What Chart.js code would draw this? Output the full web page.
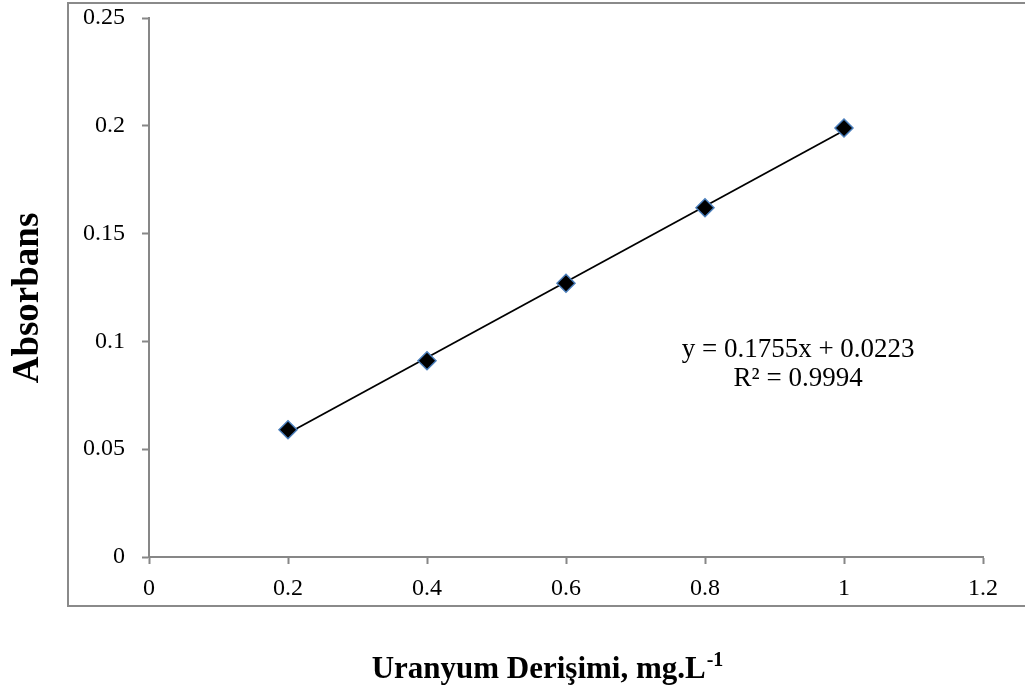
<!DOCTYPE html>
<html>
<head>
<meta charset="utf-8">
<script src="https://cdn.jsdelivr.net/npm/chart.js@4/dist/chart.umd.min.js"></script>
<style>
  html, body { margin: 0; padding: 0; background: #ffffff; }
  #wrap { width: 1025px; height: 694px; position: relative; }
</style>
</head>
<body>
<div id="wrap"><canvas id="c" width="1025" height="694"></canvas></div>
<script>
// Calibration data: uranium concentration (mg/L) vs absorbance
const concentration = [0.2, 0.4, 0.6, 0.8, 1.0];
const absorbance = [0.059, 0.091, 0.127, 0.162, 0.199];

// Linear fit reported on the chart
const fitSlope = 0.1755;
const fitIntercept = 0.0223;
const fitR2 = 0.9994;

// Axis ranges and tick steps
const xTicks = [0, 0.2, 0.4, 0.6, 0.8, 1, 1.2];
const yTicks = [0, 0.05, 0.1, 0.15, 0.2, 0.25];

const FONT = "'Liberation Serif', 'Times New Roman', serif";
const AXIS_GRAY = '#878787';

const pointData = concentration.map((x, i) => ({ x, y: absorbance[i] }));
const xFirst = concentration[0];
const xLast = concentration[concentration.length - 1];
const trendData = [xFirst, xLast].map(x => ({ x, y: fitSlope * x + fitIntercept }));

const fmt = v => String(Math.round(v * 1000) / 1000);

// Frame around the plot, equation label and axis titles
const decorations = {
  id: 'decorations',
  beforeDraw(chart) {
    const ctx = chart.ctx;
    ctx.save();
    ctx.fillStyle = '#ffffff';
    ctx.fillRect(0, 0, chart.width, chart.height);
    ctx.strokeStyle = '#8a8a8a';
    ctx.lineWidth = 2;
    ctx.strokeRect(68, 3, chart.width + 10, 603);
    ctx.restore();
  },
  afterDatasetsDraw(chart) {
    const ctx = chart.ctx;
    const xs = chart.scales.x, ys = chart.scales.y;
    // equation label, anchored in data space
    const px = xs.getPixelForValue(0.934);
    const py = ys.getPixelForValue(0.0893);
    ctx.save();
    ctx.fillStyle = '#000000';
    ctx.font = '27px ' + FONT;
    ctx.textAlign = 'center';
    ctx.textBaseline = 'middle';
    ctx.fillText('y = ' + fitSlope.toFixed(4) + 'x + ' + fitIntercept.toFixed(4), px, py - 14.5);
    ctx.fillText('R\u00B2 = ' + fitR2.toFixed(4), px, py + 14.5);
    ctx.restore();
  },
  afterDraw(chart) {
    const ctx = chart.ctx;
    ctx.save();
    ctx.fillStyle = '#000000';
    // x-axis title with superscript unit exponent
    const main = 'Uranyum Derişimi, mg.L';
    const sup = '-1';
    ctx.font = 'bold 31px ' + FONT;
    const w1 = ctx.measureText(main).width;
    ctx.font = 'bold 20px ' + FONT;
    const w2 = ctx.measureText(sup).width;
    const cx = 547, base = 678;
    const x0 = cx - (w1 + w2) / 2;
    ctx.textAlign = 'left';
    ctx.textBaseline = 'alphabetic';
    ctx.font = 'bold 31px ' + FONT;
    ctx.fillText(main, x0, base);
    ctx.font = 'bold 20px ' + FONT;
    ctx.fillText(sup, x0 + w1 + 1, base - 12);
    // y-axis title
    ctx.translate(38, 298);
    ctx.rotate(-Math.PI / 2);
    ctx.font = 'bold 37px ' + FONT;
    ctx.textAlign = 'center';
    ctx.fillText('Absorbans', 0, 0);
    ctx.restore();
  }
};

new Chart(document.getElementById('c'), {
  type: 'scatter',
  data: {
    datasets: [
      {
        label: 'Absorbans',
        data: pointData,
        pointStyle: 'rectRot',
        pointRadius: 9,
        pointHoverRadius: 9,
        pointBackgroundColor: '#000000',
        pointBorderColor: '#4a7ebb',
        pointBorderWidth: 1.5,
        showLine: false
      },
      {
        label: 'Doğrusal',
        data: trendData,
        showLine: true,
        borderColor: '#000000',
        borderWidth: 1.8,
        pointRadius: 0,
        pointHoverRadius: 0,
        fill: false
      }
    ]
  },
  options: {
    responsive: false,
    animation: false,
    devicePixelRatio: 1,
    layout: { padding: { left: 0, top: 18, right: 42, bottom: 0 } },
    plugins: {
      legend: { display: false },
      tooltip: { enabled: false },
      title: { display: false }
    },
    scales: {
      x: {
        type: 'linear',
        min: xTicks[0],
        max: xTicks[xTicks.length - 1],
        afterFit(scale) { scale.height = 137; },
        afterBuildTicks(scale) { scale.ticks = xTicks.map(v => ({ value: v })); },
        ticks: {
          color: '#000000',
          font: { family: FONT, size: 24 },
          padding: 10,
          maxRotation: 0,
          callback: v => fmt(v)
        },
        grid: {
          drawOnChartArea: false,
          drawTicks: true,
          tickLength: 7,
          tickWidth: 2,
          tickColor: AXIS_GRAY
        },
        border: { display: true, color: AXIS_GRAY, width: 2 }
      },
      y: {
        type: 'linear',
        min: yTicks[0],
        max: yTicks[yTicks.length - 1],
        afterFit(scale) {
          scale.width = 149;
          scale.paddingTop = 0;
          scale.paddingBottom = 0;
        },
        afterBuildTicks(scale) { scale.ticks = yTicks.map(v => ({ value: v })); },
        ticks: {
          color: '#000000',
          font: { family: FONT, size: 24 },
          padding: 17,
          callback: v => fmt(v)
        },
        grid: {
          drawOnChartArea: false,
          drawTicks: true,
          tickLength: 7,
          tickWidth: 2,
          tickColor: AXIS_GRAY
        },
        border: { display: true, color: AXIS_GRAY, width: 2 }
      }
    }
  },
  plugins: [decorations]
});
</script>
</body>
</html>
